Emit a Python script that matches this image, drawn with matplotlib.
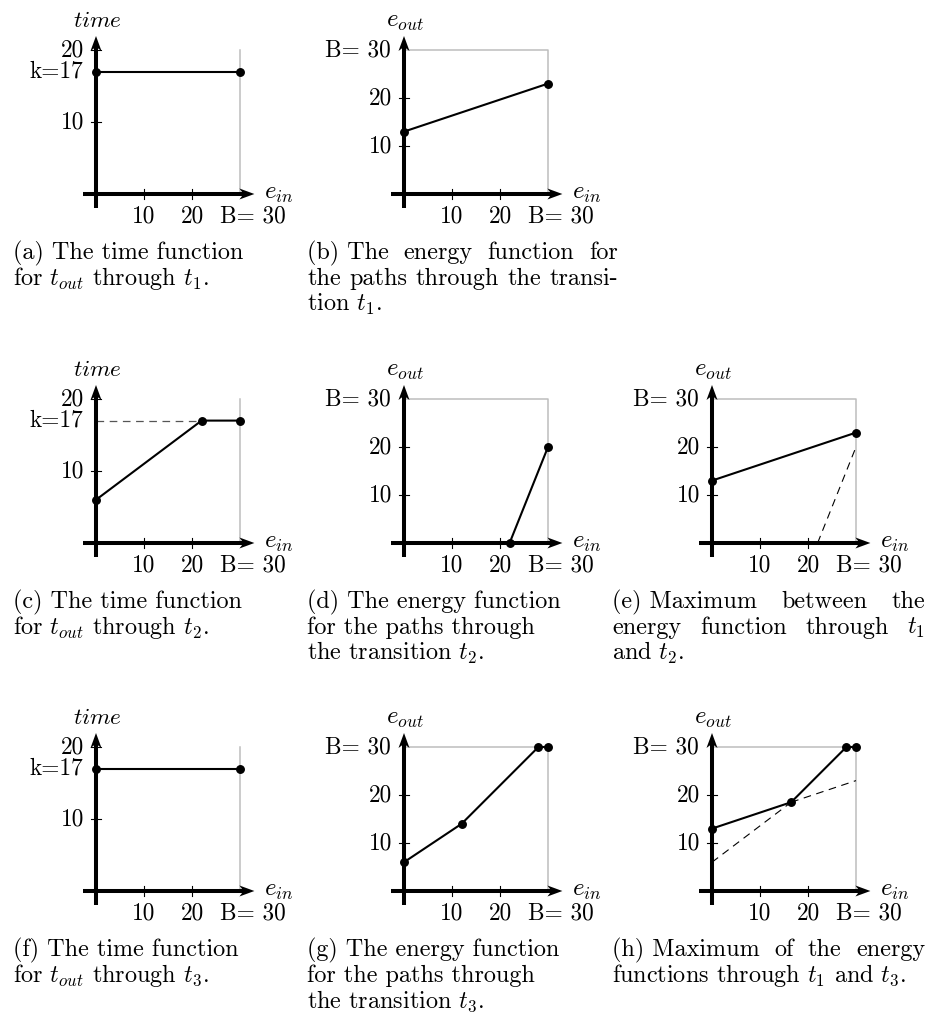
import matplotlib
matplotlib.use("Agg")
import matplotlib.pyplot as plt
from matplotlib.patches import Polygon
from matplotlib.transforms import Affine2D

# ---------------- data ----------------
B = 30
K = 17
x_ticks = [10, 20]
time_y_ticks = [10, 20]
energy_y_ticks = [10, 20]

time_t1_x = [0, 30]
time_t1_y = [17, 17]
energy_t1_x = [0, 30]
energy_t1_y = [13, 23]

time_t2_x = [0, 22, 30]
time_t2_y = [6, 17, 17]
energy_t2_x = [22, 30]
energy_t2_y = [0, 20]

time_t3_x = [0, 30]
time_t3_y = [17, 17]
energy_t3_x = [0, 12, 28, 30]
energy_t3_y = [6, 14, 30, 30]

max_t1_t3_x = [0, 16.5, 28, 30]
max_t1_t3_y = [13, 18.5, 30, 30]
# dashed (non-maximal) parts shown in panel (h)
h_dash_low_x = [0, 16.5]
h_dash_low_y = [6, 18.5]
h_dash_high_x = [16.5, 30]
h_dash_high_y = [18.5, 23]

captions = {
    "a": (["(a) The time function", "for $t_{out}$ through $t_1$."], False),
    "b": (["(b) The energy function for", "the paths through the transi-", "tion $t_1$."], True),
    "c": (["(c) The time function", "for $t_{out}$ through $t_2$."], False),
    "d": (["(d) The energy function", "for the paths through", "the transition $t_2$."], False),
    "e": (["(e) Maximum between the", "energy function through $t_1$", "and $t_2$."], True),
    "f": (["(f) The time function", "for $t_{out}$ through $t_3$."], False),
    "g": (["(g) The energy function", "for the paths through", "the transition $t_3$."], False),
    "h": (["(h) Maximum of the energy", "functions through $t_1$ and $t_3$."], True),
}

# ---------------- style / layout ----------------
W, H, DPI = 932, 1022, 100
plt.rcParams["font.family"] = ["cmr10", "DejaVu Serif"]
plt.rcParams["mathtext.fontset"] = "cm"
plt.rcParams["axes.unicode_minus"] = False
plt.rcParams["lines.scale_dashes"] = False
FS_CAP = 17.4
FS_TICK = 16.8
FS_LAB = 18.0

COLS = [96, 404, 712]
ROWS = [194, 543, 891]
CAP_LEFT = [13, 307, 612]
CAP_RIGHT = [325, 618, 925]
CAP_BASE = [65, 91, 117]
PPX = 4.8
GRAY = "#bdbdbd"

fig = plt.figure(figsize=(W / DPI, H / DPI), dpi=DPI)
TOPLEFT = Affine2D().scale(1, -1).translate(0, H)


def arrow_head(ax, tip, direction, ppx, ppy, L=15.0, Wh=5.5):
    tx, ty = tip
    if direction == "x":
        verts = [(tx, ty), (tx - L / ppx, ty + Wh / ppy),
                 (tx - 0.72 * L / ppx, ty), (tx - L / ppx, ty - Wh / ppy)]
    else:
        verts = [(tx, ty), (tx + Wh / ppx, ty - L / ppy),
                 (tx, ty - 0.72 * L / ppy), (tx - Wh / ppx, ty - L / ppy)]
    ax.add_patch(Polygon(verts, closed=True, facecolor="black",
                         edgecolor="none", zorder=5, clip_on=False))


def make_panel(col, row, kind):
    ox, oy = COLS[col], ROWS[row]
    ppy = 7.2 if kind == "time" else 4.8
    x0, x1 = -3.5, 34
    left = ox + x0 * PPX
    ax = fig.add_axes([left / W, 1 - (oy + 16.8) / H, (x1 - x0) * PPX / W, 180 / H])
    ax.set_xlim(x0, x1)
    ax.set_ylim(-16.8 / ppy, 163.2 / ppy)
    ax.axis("off")

    # gray bounding lines
    if kind == "time":
        ax.plot([B, B], [0, 20], color=GRAY, lw=1.1, zorder=1, clip_on=False)
    else:
        ax.plot([0, B, B], [B, B, 0], color=GRAY, lw=1.1, zorder=1, clip_on=False)

    # axes with arrows
    xtip = 33.0
    ytip = 158 / ppy
    ax.plot([-13 / PPX, xtip - 9 / PPX], [0, 0], color="black", lw=2.9,
            solid_capstyle="butt", zorder=4, clip_on=False)
    ax.plot([0, 0], [-14 / ppy, ytip - 9 / ppy], color="black", lw=2.9,
            solid_capstyle="butt", zorder=4, clip_on=False)
    arrow_head(ax, (xtip, 0), "x", PPX, ppy)
    arrow_head(ax, (0, ytip), "y", PPX, ppy)

    # ticks
    for t in x_ticks:
        ax.plot([t, t], [-5 / ppy, 5 / ppy], color="black", lw=0.8, zorder=4, clip_on=False)
        ax.annotate(str(t), xy=(t, 0), xytext=(0, -22), textcoords="offset pixels",
                    ha="center", va="center", fontsize=FS_TICK)
    yt = time_y_ticks if kind == "time" else energy_y_ticks
    for t in yt:
        ax.plot([-5 / PPX, 5 / PPX], [t, t], color="black", lw=0.8, zorder=4, clip_on=False)
        ax.annotate(str(t), xy=(0, t), xytext=(-12, 0), textcoords="offset pixels",
                    ha="right", va="center", fontsize=FS_TICK)
    ax.annotate("B= 30", xy=(0, 0), xytext=(124, -22), textcoords="offset pixels",
                ha="left", va="center", fontsize=FS_TICK)
    if kind == "time":
        ax.annotate("k=%d" % K, xy=(0, K), xytext=(-13, 0), textcoords="offset pixels",
                    ha="right", va="center", fontsize=FS_TICK)
        ylab = "$time$"
        lfs = FS_TICK
    else:
        ax.annotate("B= 30", xy=(0, B), xytext=(-13, 0), textcoords="offset pixels",
                    ha="right", va="center", fontsize=FS_TICK)
        ylab = "$e_{out}$"
        lfs = FS_LAB
    ax.annotate("$e_{in}$", xy=(0, 0), xytext=(168, -5), textcoords="offset pixels",
                ha="left", va="baseline", fontsize=FS_LAB)
    ax.annotate(ylab, xy=(0, 0), xytext=(1, 167), textcoords="offset pixels",
                ha="center", va="baseline", fontsize=lfs)
    return ax


def curve(ax, xs, ys, dots=True):
    ax.plot(xs, ys, color="black", lw=1.5, zorder=6, clip_on=False,
            solid_joinstyle="round")
    if dots:
        ax.plot(xs, ys, "o", color="black", ms=5.4, zorder=7, clip_on=False)


def dashed(ax, xs, ys, color="black", lw=0.8):
    ax.plot(xs, ys, color=color, lw=lw, ls=(0, (5.5, 4)), zorder=3, clip_on=False)


# (a)
ax = make_panel(0, 0, "time")
curve(ax, time_t1_x, time_t1_y)
# (b)
ax = make_panel(1, 0, "energy")
curve(ax, energy_t1_x, energy_t1_y)
# (c)
ax = make_panel(0, 1, "time")
dashed(ax, [0, time_t2_x[1]], [K, K], color="#555555", lw=0.9)
curve(ax, time_t2_x, time_t2_y)
# (d)
ax = make_panel(1, 1, "energy")
curve(ax, energy_t2_x, energy_t2_y)
# (e)
ax = make_panel(2, 1, "energy")
dashed(ax, energy_t2_x, energy_t2_y)
curve(ax, energy_t1_x, energy_t1_y)
# (f)
ax = make_panel(0, 2, "time")
curve(ax, time_t3_x, time_t3_y)
# (g)
ax = make_panel(1, 2, "energy")
curve(ax, energy_t3_x, energy_t3_y)
# (h)
ax = make_panel(2, 2, "energy")
dashed(ax, h_dash_low_x, h_dash_low_y)
dashed(ax, h_dash_high_x, h_dash_high_y)
curve(ax, max_t1_t3_x, max_t1_t3_y)

# ---------------- captions ----------------
renderer = fig.canvas.get_renderer()
positions = {"a": (0, 0), "b": (1, 0), "c": (0, 1), "d": (1, 1), "e": (2, 1),
             "f": (0, 2), "g": (1, 2), "h": (2, 2)}


def split_tokens(line):
    words = line.split(" ")
    if words[0].startswith("("):
        words = [words[0] + " " + words[1]] + words[2:]
    return words


for key, (lines, just) in captions.items():
    col, row = positions[key]
    x0 = CAP_LEFT[col]
    x1 = CAP_RIGHT[col]
    for i, line in enumerate(lines):
        yb = ROWS[row] + CAP_BASE[i]
        if just and i < len(lines) - 1:
            toks = split_tokens(line)
            objs = [fig.text(0, yb, tk, transform=TOPLEFT, fontsize=FS_CAP,
                             ha="left", va="baseline") for tk in toks]
            widths = [o.get_window_extent(renderer).width for o in objs]
            gap = (x1 - x0 - sum(widths)) / max(len(toks) - 1, 1)
            x = x0
            for o, w in zip(objs, widths):
                o.set_x(x)
                x += w + gap
        else:
            fig.text(x0, yb, line, transform=TOPLEFT, fontsize=FS_CAP,
                     ha="left", va="baseline")

fig.savefig("out.png", dpi=DPI)
